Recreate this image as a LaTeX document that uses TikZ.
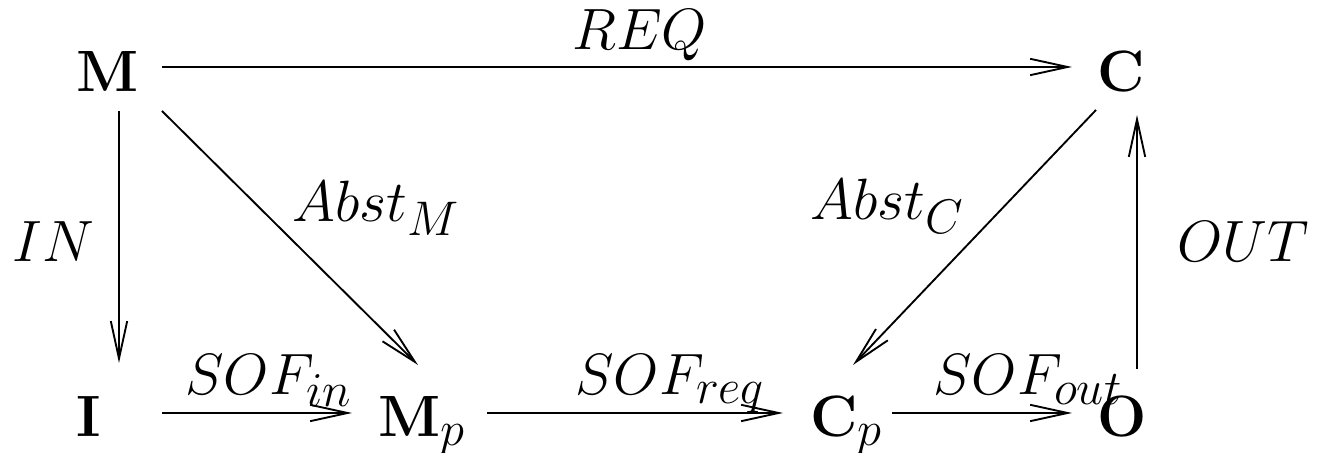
\documentclass[tikz,border=0pt]{standalone}
\usetikzlibrary{arrows.meta}
\tikzset{
  obj/.style={inner sep=0pt,anchor=base west,font=\Huge},
  lbl/.style={inner sep=0pt,anchor=base west,font=\Huge},
  map/.style={-{Straight Barb[length=16pt,width=7pt]},line width=0.8pt},
}
\begin{document}
\begin{tikzpicture}
  \useasboundingbox (0,0) rectangle (19.95,6.795);
  % objects
  \node[obj] (M)  at (1.14,5.415)   {$\mathbf{M}$};
  \node[obj] (C)  at (16.455,5.415) {$\mathbf{C}$};
  \node[obj] (I)  at (1.14,0.24)    {$\mathbf{I}$};
  \node[obj] (Mp) at (5.67,0.24)    {$\mathbf{M}_p$};
  \node[obj] (Cp) at (12.15,0.24)   {$\mathbf{C}_p$};
  \node[obj] (O)  at (16.455,0.24)  {$\mathbf{O}$};
  % top and sides
  \draw[map] ([xshift=1.29cm,yshift=0.375cm]M.base west) -- ([xshift=-0.375cm,yshift=0.375cm]C.base west);
  \draw[map] ([xshift=0.645cm,yshift=-0.285cm]M.base west) -- ([xshift=0.645cm,yshift=1.11cm]I.base west);
  \draw[map] ([xshift=0.6cm,yshift=1.02cm]O.base west) -- ([xshift=0.6cm,yshift=-0.345cm]C.base west);
  % abstractions
  \draw[map] ([xshift=1.29cm,yshift=-0.285cm]M.base west) -- ([xshift=0.6cm,yshift=1.08cm]Mp.base west);
  \draw[map] ([xshift=-0.015cm,yshift=-0.27cm]C.base west) -- ([xshift=0.645cm,yshift=1.08cm]Cp.base west);
  % bottom row
  \draw[map] ([xshift=1.29cm,yshift=0.36cm]I.base west) -- ([xshift=-0.39cm,yshift=0.36cm]Mp.base west);
  \draw[map] ([xshift=1.635cm,yshift=0.36cm]Mp.base west) -- ([xshift=-0.405cm,yshift=0.36cm]Cp.base west);
  \draw[map] ([xshift=1.23cm,yshift=0.36cm]Cp.base west) -- ([xshift=-0.375cm,yshift=0.36cm]O.base west);
  % labels
  \node[lbl] (req)   at (8.58,6.045)  {$REQ$};
  \node[lbl] (in)    at (0.18,2.865)  {$IN$};
  \node[lbl] (out)   at (17.655,2.865) {$OUT$};
  \node[lbl] (absm)  at (4.38,3.465)  {$Abst_M$};
  \node[lbl] (absc)  at (12.15,3.495) {$Abst_C$};
  \node[lbl] (sofin) at (2.775,0.87)  {$SOF_{in}$};
  \node[lbl] (sofrq) at (8.625,0.87)  {$SOF_{req}$};
  \node[lbl] (sofot) at (13.995,0.87) {$SOF_{out}$};
\end{tikzpicture}
\end{document}
